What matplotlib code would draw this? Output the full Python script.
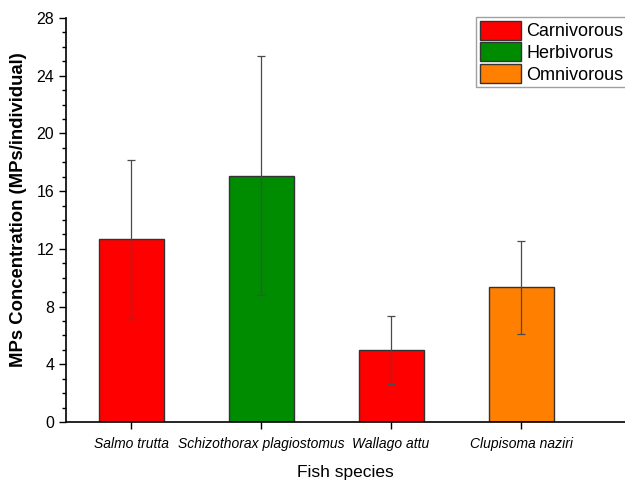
import numpy as np
import matplotlib.pyplot as plt
from matplotlib.patches import Patch
from matplotlib.ticker import MultipleLocator

plt.rcParams['font.family'] = ['Liberation Sans', 'DejaVu Sans']

species = ['Salmo trutta', 'Schizothorax plagiostomus', 'Wallago attu', 'Clupisoma naziri']
feeding = ['Carnivorous', 'Herbivorous', 'Carnivorous', 'Omnivorous']
mean_mps = [12.66, 17.07, 4.99, 9.33]
sd_mps = [5.5, 8.3, 2.37, 3.22]

group_colors = {'Carnivorous': '#ff0000', 'Herbivorous': '#008c00', 'Omnivorous': '#ff8000'}
group_labels = {'Carnivorous': 'Carnivorous', 'Herbivorous': 'Herbivorus', 'Omnivorous': 'Omnivorous'}


def plot_concentration():
    fig = plt.figure(figsize=(6.25, 4.84), dpi=100)
    ax = fig.add_axes([0.1056, 0.128, 0.8944, 0.835])

    x = np.arange(1, len(species) + 1)
    colors = [group_colors[g] for g in feeding]
    ax.bar(x, mean_mps, width=0.5, color=colors, edgecolor='#333333', linewidth=1.0, zorder=2)
    ax.errorbar(x, mean_mps, yerr=sd_mps, fmt='none', ecolor='#4a4a4a',
                elinewidth=0.9, capsize=2.6, capthick=0.9, zorder=3)

    ax.set_xlim(0.5, 4.8)
    ax.set_ylim(0, 28)
    ax.set_xticks(x)
    ax.set_xticklabels(species, fontstyle='italic', fontsize=10)
    ax.yaxis.set_major_locator(MultipleLocator(4))
    ax.yaxis.set_minor_locator(MultipleLocator(1))
    ax.tick_params(axis='y', which='major', length=5, width=1, labelsize=11.5)
    ax.tick_params(axis='y', which='minor', length=3, width=1)
    ax.tick_params(axis='x', length=5, width=1, pad=6)
    for side in ('top', 'right'):
        ax.spines[side].set_visible(False)
    for side in ('left', 'bottom'):
        ax.spines[side].set_linewidth(1.2)

    ax.set_xlabel('Fish species', fontsize=12.5, labelpad=10)
    ax.set_ylabel('MPs Concentration (MPs/individual)', fontsize=13.3, fontweight='bold')
    ax.yaxis.set_label_coords(-0.07, 0.525)

    handles = [Patch(facecolor=group_colors[g], edgecolor='#333333', label=group_labels[g])
               for g in group_colors]
    leg = fig.legend(handles=handles, loc='upper left', bbox_to_anchor=(476 / 625, 1 - 17 / 484),
                     fontsize=13, frameon=True, fancybox=False, handlelength=2.3,
                     handleheight=1.25, handletextpad=0.3, labelspacing=0.12,
                     borderpad=0.2, borderaxespad=0)
    leg.get_frame().set_edgecolor('#888888')
    leg.get_frame().set_linewidth(1.0)

    fig.savefig('out.png', dpi=100)


if __name__ == '__main__':
    plot_concentration()
